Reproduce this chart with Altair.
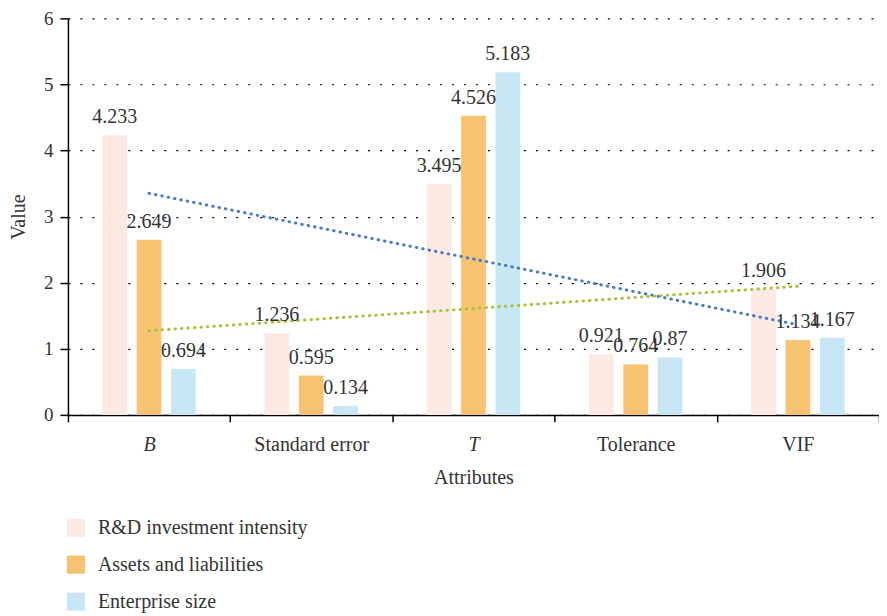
import altair as alt
import pandas as pd

categories = ["B", "Standard error", "T", "Tolerance", "VIF"]
series_names = ["R&D investment intensity", "Assets and liabilities", "Enterprise size"]
rd_values = [4.233, 1.236, 3.495, 0.921, 1.906]
assets_values = [2.649, 0.595, 4.526, 0.764, 1.134]
size_values = [0.694, 0.134, 5.183, 0.87, 1.167]
label_texts = {
    series_names[0]: ["4.233", "1.236", "3.495", "0.921", "1.906"],
    series_names[1]: ["2.649", "0.595", "4.526", "0.764", "1.134"],
    series_names[2]: ["0.694", "0.134", "5.183", "0.87", "1.167"],
}
colors = ["#FDE9E3", "#F5C372", "#C8E7F4"]
trend_colors = {series_names[0]: "#4A7CC6", series_names[2]: "#A6C23C"}

rows = []
for s, vals in zip(series_names, [rd_values, assets_values, size_values]):
    for i, (c, v) in enumerate(zip(categories, vals)):
        rows.append({"cat": c, "idx": i, "series": s, "val": v, "lab": label_texts[s][i]})
df = pd.DataFrame(rows)

FONT = "Liberation Serif"
TXT = "#333333"
FS = 20

x_enc = alt.X(
    "cat:N",
    sort=categories,
    title="Attributes",
    scale=alt.Scale(paddingInner=0, paddingOuter=0),
    axis=alt.Axis(
        labelAngle=0,
        tickBand="extent",
        tickSize=7,
        labelPadding=13,
        titlePadding=13,
        labelFontStyle=alt.condition("datum.value == 'B' || datum.value == 'T'", alt.value("italic"), alt.value("normal")),
    ),
)
xoff = alt.XOffset("series:N", sort=series_names, scale=alt.Scale(paddingInner=0.28, paddingOuter=1))
y_enc = alt.Y(
    "val:Q",
    title="Value",
    scale=alt.Scale(domain=[0, 6]),
    axis=alt.Axis(values=[0, 1, 2, 3, 4, 5, 6], format="d", tickSize=8, labelPadding=7, titlePadding=15,
                  labelFontSize=19,
                  grid=True, gridColor="#000000", gridDash=[2, 10], gridWidth=1.2),
)

base = alt.Chart(df)

bars = base.mark_bar().encode(
    x=x_enc,
    xOffset=xoff,
    y=y_enc,
    color=alt.Color(
        "series:N",
        sort=series_names,
        scale=alt.Scale(domain=series_names, range=colors),
        legend=alt.Legend(
            title=None, orient="none", legendX=-2, legendY=500, direction="vertical",
            symbolType="square", symbolSize=330, symbolStrokeWidth=0, symbolOpacity=1,
            labelFontSize=FS, labelFont=FONT, labelColor=TXT, rowPadding=17, labelOffset=12,
            labelLimit=0,
        ),
    ),
)

texts = base.mark_text(baseline="alphabetic", dy=-12, fontSize=FS, font=FONT, color=TXT).encode(
    x=alt.X("cat:N", sort=categories),
    xOffset=xoff,
    y="val:Q",
    text="lab:N",
)

def trend(name):
    return (
        base.transform_filter(alt.datum.series == name)
        .transform_regression("idx", "val")
        .transform_calculate(cat="['B','Standard error','T','Tolerance','VIF'][round(datum.idx)]")
        .mark_line(strokeDash=[0.5, 6], strokeWidth=3, color=trend_colors[name], strokeCap="round")
        .encode(x=alt.X("cat:N", sort=categories), y="val:Q")
    )

chart = (
    alt.layer(bars, trend(series_names[0]), trend(series_names[2]), texts)
    .properties(
        width=812, height=397,
        autosize=alt.AutoSizeParams(type="none"),
        padding={"left": 60, "top": 10, "right": 0, "bottom": 201},
    )
    .configure_view(stroke=None)
    .configure_axis(
        labelFont=FONT, titleFont=FONT, labelFontSize=FS, titleFontSize=FS,
        labelColor=TXT, titleColor=TXT, domainColor="#000000", tickColor="#000000",
        domainWidth=1.5, tickWidth=1.5, titleFontWeight="normal",
    )
    .configure_axisX(grid=False)
)

chart.save("out.html", embed_options={"renderer": "svg", "actions": False})
